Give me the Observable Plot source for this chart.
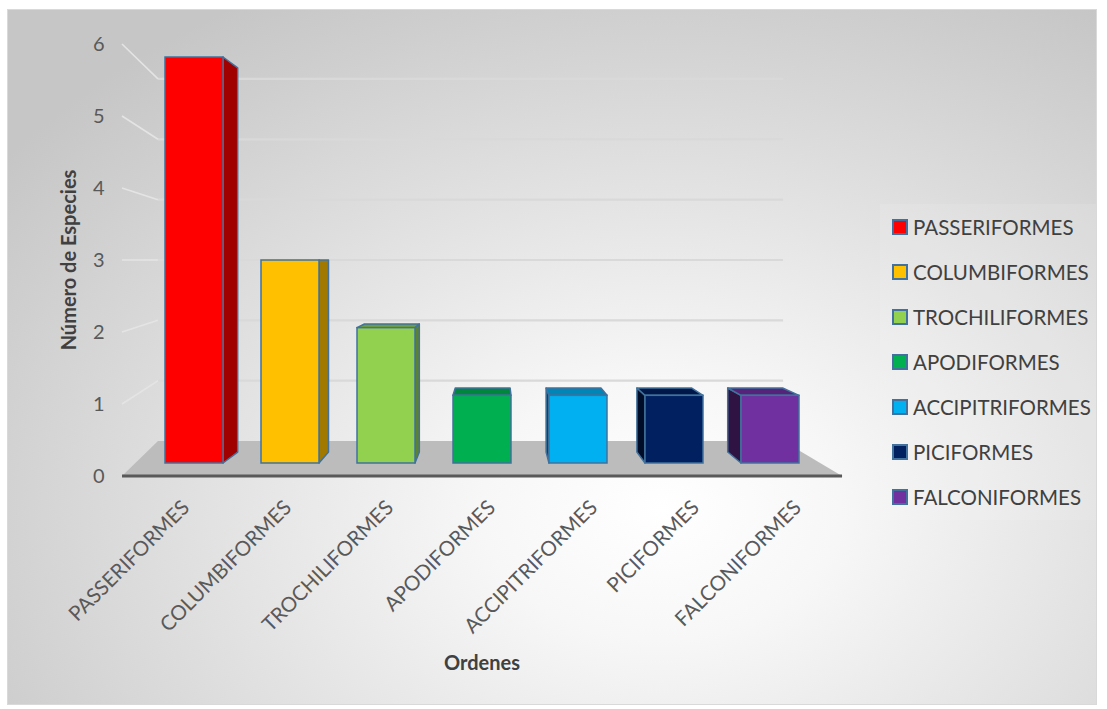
<!DOCTYPE html>
<html>
<head>
<meta charset="utf-8">
<script src="https://cdn.jsdelivr.net/npm/d3@7"></script>
<script src="https://cdn.jsdelivr.net/npm/@observablehq/plot@0.6"></script>
<style>
  html, body { margin: 0; padding: 0; background: #ffffff; }
  #wrap { position: relative; width: 1107px; height: 709px; overflow: hidden; font-family: Lato, "Open Sans", sans-serif; }
  #bg { position: absolute; left: 7px; top: 9px; width: 1088px; height: 694px; border: 1px solid #d9d9d9;
        background: radial-gradient(ellipse 75% 85% at 60% 72%, #ffffff 0%, #f7f7f7 22%, #e2e2e2 55%, #cfcfcf 85%, #c6c6c6 100%); }
  #chart { position: absolute; left: 0; top: 0; }
  .title { position: absolute; color: #404040; font-weight: bold; font-size: 20px; white-space: nowrap; }
  #ytitle { left: 68px; top: 260px; transform: translate(-50%, -50%) rotate(-90deg); }
  #xtitle { left: 482px; top: 662px; transform: translate(-50%, -50%); }
  #legend { position: absolute; left: 880px; top: 204px; width: 216px; height: 316px; background: rgba(255,255,255,0.1); }
  .li { position: absolute; left: 12px; height: 24px; display: flex; align-items: center; font-size: 20.5px; color: #404040; white-space: nowrap; }
  .sw { width: 12px; height: 12px; border: 2px solid #41719C; margin-right: 5px; }
</style>
</head>
<body>
<div id="wrap">
  <div id="bg"></div>
  <div id="chart"></div>
  <div id="ytitle" class="title">Número de Especies</div>
  <div id="xtitle" class="title">Ordenes</div>
  <div id="legend"></div>
</div>
<script>
// ---- data ----
const orders = ["PASSERIFORMES", "COLUMBIFORMES", "TROCHILIFORMES", "APODIFORMES", "ACCIPITRIFORMES", "PICIFORMES", "FALCONIFORMES"];
const counts = [6, 3, 2, 1, 1, 1, 1];
const colors = ["#FF0000", "#FFC000", "#92D050", "#00B050", "#00B0F0", "#002060", "#7030A0"];
const yTicks = [0, 1, 2, 3, 4, 5, 6];

const data = orders.map((o, i) => ({order: o, count: counts[i], color: colors[i]}));

// ---- 3D projection planes (styling) ----
const FRONT = {cx: 473, fx: 1.062, cy: 260, fy: 1.064};   // floor front edge / axis labels
const BACK = {cx: 341, fx: 0.922, cy: 260, fy: 0.892};    // back wall
const BARBACK = {cx: 495, fx: 0.946, cy: 260, fy: 0.946}; // back faces of the bars
const P = (pl, px, py) => [pl.cx + (px - pl.cx) * pl.fx, pl.cy + (py - pl.cy) * pl.fy];
const pts = (arr) => arr.map(p => p.join(",")).join(" ");

function scenery(index, scales) {
  const {x, y} = scales;
  const [r0, r1] = x.range();
  const g = d3.create("svg:g");
  const y0 = y(0);
  // floor
  g.append("polygon")
    .attr("points", pts([P(FRONT, r0, y0), P(FRONT, r1, y0), P(BACK, r1, y0), P(BACK, r0, y0)]))
    .attr("fill", "#bcbcbc");
  // back wall gridlines and left wall lines
  for (const v of yTicks) {
    if (v === 0) continue;
    const a = P(BACK, r0, y(v)), b = P(BACK, r1, y(v)), c = P(FRONT, r0, y(v));
    g.append("line").attr("x1", a[0]).attr("y1", a[1]).attr("x2", b[0]).attr("y2", b[1])
      .attr("stroke", "#d9d9d9").attr("stroke-width", 2.2);
    g.append("line").attr("x1", c[0]).attr("y1", c[1]).attr("x2", a[0]).attr("y2", a[1])
      .attr("stroke", "#e4e4e4").attr("stroke-width", 1.6);
  }
  // category axis line
  const f0 = P(FRONT, r0, y0), f1 = P(FRONT, r1, y0);
  g.append("line").attr("x1", f0[0]).attr("y1", f0[1]).attr("x2", f1[0]).attr("y2", f1[1])
    .attr("stroke", "#595959").attr("stroke-width", 3);
  return g.node();
}

function shade(c, k) {
  const r = d3.rgb(c);
  return d3.rgb(r.r * k, r.g * k, r.b * k).formatHex();
}

function boxSides(index, scales) {
  const {x, y} = scales;
  const bw = x.bandwidth();
  const g = d3.create("svg:g")
    .attr("stroke", "#41719C").attr("stroke-width", 1.5).attr("stroke-linejoin", "round");
  for (const d of data) {
    const x1 = x(d.order), x2 = x1 + bw, yt = y(d.count), yb = y(0);
    if (x2 < BARBACK.cx) {
      g.append("polygon").attr("fill", shade(d.color, 0.63))
        .attr("points", pts([[x2, yt], [x2, yb], P(BARBACK, x2, yb), P(BARBACK, x2, yt)]));
    } else if (x1 > BARBACK.cx) {
      g.append("polygon").attr("fill", shade(d.color, 0.42))
        .attr("points", pts([[x1, yt], [x1, yb], P(BARBACK, x1, yb), P(BARBACK, x1, yt)]));
    }
    if (yt > BARBACK.cy) {
      g.append("polygon").attr("fill", shade(d.color, 0.76))
        .attr("points", pts([[x1, yt], [x2, yt], P(BARBACK, x2, yt), P(BARBACK, x1, yt)]));
    }
  }
  return g.node();
}

const remapFrontY = (index, scales, values, dims, ctx, next) =>
  next(index, scales, {...values, y: Array.from(values.y, v => FRONT.cy + (v - FRONT.cy) * FRONT.fy)}, dims, ctx);
const remapFrontX = (index, scales, values, dims, ctx, next) =>
  next(index, scales, {...values, x: Array.from(values.x, v => FRONT.cx + (v - FRONT.cx) * FRONT.fx)}, dims, ctx);

const plot = Plot.plot({
  width: 1107,
  height: 709,
  margin: 0,
  style: {background: "transparent", fontFamily: "Lato, 'Open Sans', sans-serif", overflow: "visible"},
  x: {type: "band", domain: orders, range: [142.5, 820.5], paddingInner: 0.4, paddingOuter: 0.2, axis: null},
  y: {domain: [0, 6], range: [463, 57], axis: null},
  color: {type: "identity"},
  marks: [
    scenery,
    boxSides,
    Plot.barY(data, {x: "order", y: "count", fill: "color", stroke: "#41719C", strokeWidth: 1.5}),
    Plot.text(yTicks, {y: d => d, text: d => String(d), frameAnchor: "left", dx: 104, textAnchor: "end",
      fontSize: 20, fill: "#595959", render: remapFrontY}),
    Plot.text(orders, {x: d => d, y: () => 0, text: d => d, rotate: -45, textAnchor: "end", lineAnchor: "top",
      dx: 5, dy: 35, fontSize: 20.5, fill: "#595959", render: remapFrontX})
  ]
});
document.getElementById("chart").appendChild(plot);

// legend
const leg = d3.select("#legend");
orders.forEach((o, i) => {
  const item = leg.append("div").attr("class", "li").style("top", (227 - 204 - 12 + i * 45) + "px");
  item.append("div").attr("class", "sw").style("background", colors[i]);
  item.append("span").text(o);
});
</script>
</body>
</html>
